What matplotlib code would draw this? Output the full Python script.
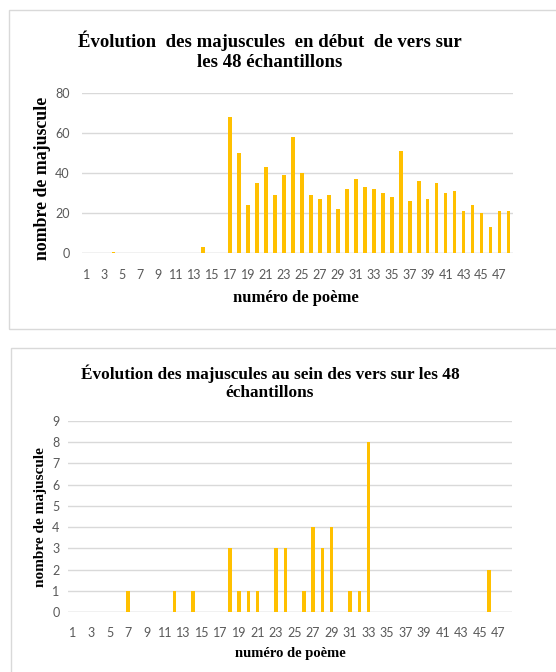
import matplotlib
matplotlib.use("Agg")
import matplotlib.pyplot as plt
from matplotlib.patches import Rectangle

poemes = list(range(1, 49))
debut_vers = [0, 0, 0, 0.5, 0, 0, 0, 0, 0, 0, 0, 0, 0, 3, 0, 0,
              68, 50, 24, 35, 43, 29, 39, 58, 40, 29, 27, 29, 22, 32, 37, 33,
              32, 30, 28, 51, 26, 36, 27, 35, 30, 31, 21, 24, 20, 13, 21, 21]
sein_vers = [0, 0, 0, 0, 0, 0, 1, 0, 0, 0, 0, 1, 0, 1, 0, 0,
             0, 3, 1, 1, 1, 0, 3, 3, 0, 1, 4, 3, 4, 0, 1, 1,
             8, 0, 0, 0, 0, 0, 0, 0, 0, 0, 0, 0, 0, 2, 0, 0]
xtick_labels = [str(i) for i in range(1, 49, 2)]

title1 = "Évolution  des majuscules  en début  de vers sur\nles 48 échantillons"
title2 = "Évolution des majuscules au sein des vers sur les 48\néchantillons"
xlabel = "numéro de poème"
ylabel = "nombre de majuscule"

BAR = "#FFC000"
GRID = "#D9D9D9"
TICK = "#595959"
serif = ["Liberation Serif", "DejaVu Serif"]

W, H = 556, 672
fig = plt.figure(figsize=(W / 100, H / 100), dpi=100)
fig.patch.set_facecolor("white")

def fx(x):
    return x / W

def fy(y):
    return 1 - y / H

def frac_rect(x0, y0, x1, y1):
    return Rectangle((fx(x0), fy(y1)), (x1 - x0) / W, (y1 - y0) / H,
                     transform=fig.transFigure, fill=False, edgecolor=GRID, lw=1.0)

fig.patches.append(frac_rect(9, 10, 560, 329))
fig.patches.append(frac_rect(11, 348, 560, 680))

def style(ax, yticks, ymax, ypad, xpad):
    ax.set_xlim(0.5, 48.5)
    ax.set_ylim(0, ymax)
    ax.set_yticks(yticks)
    ax.set_xticks(range(1, 49, 2))
    ax.set_xticklabels(xtick_labels)
    for s in ax.spines.values():
        s.set_visible(False)
    ax.grid(axis="y", color=GRID, lw=1.0)
    ax.set_axisbelow(True)
    ax.tick_params(length=0, colors=TICK, labelsize=9)
    ax.tick_params(axis="y", pad=ypad)
    ax.tick_params(axis="x", pad=xpad)
    for lab in ax.get_xticklabels() + ax.get_yticklabels():
        lab.set_family(["Lato", "DejaVu Sans"])
    ax.axhline(0, color=GRID, lw=1.0, zorder=1)

# top chart
ax1 = fig.add_axes([fx(82), fy(252.5), (513 - 82) / W, (252.5 - 93) / H])
ax1.bar(poemes, debut_vers, width=0.4, color=BAR, zorder=2)
style(ax1, [0, 20, 40, 60, 80], 80, 9, 12)
fig.text(fx(296), fy(298), xlabel, ha="center", va="center", family=serif,
         fontweight="bold", fontsize=12)
fig.text(fx(43), fy(178), ylabel, ha="center", va="center", rotation=90,
         family=serif, fontweight="bold", fontsize=12.8)
fig.text(fx(270), fy(51), title1, ha="center", va="center", family=serif,
         fontweight="bold", fontsize=13.5, linespacing=1.2)

# bottom chart
ax2 = fig.add_axes([fx(68), fy(612), (512 - 68) / W, (612 - 421) / H])
ax2.bar(poemes, sein_vers, width=0.4, color=BAR, zorder=2)
style(ax2, list(range(0, 10)), 9, 6, 11)
fig.text(fx(290), fy(653), xlabel, ha="center", va="center", family=serif,
         fontweight="bold", fontsize=10.5)
fig.text(fx(41), fy(517), ylabel, ha="center", va="center", rotation=90,
         family=serif, fontweight="bold", fontsize=11)
fig.text(fx(270), fy(383), title2, ha="center", va="center", family=serif,
         fontweight="bold", fontsize=12.4, linespacing=1.2)

fig.savefig("out.png", dpi=100, facecolor="white")
